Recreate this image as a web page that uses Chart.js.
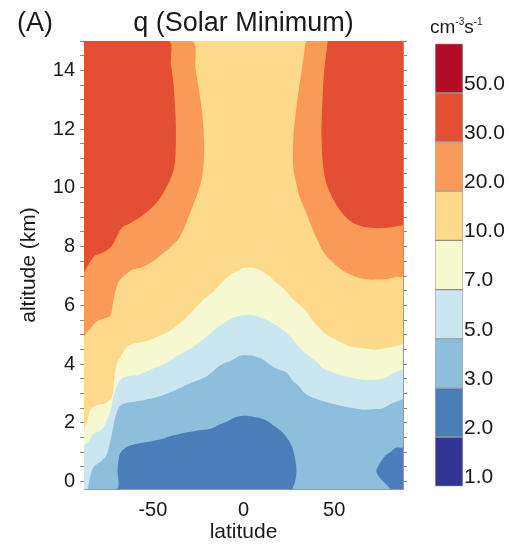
<!DOCTYPE html>
<html>
<head>
<meta charset="utf-8">
<script src="https://cdn.jsdelivr.net/npm/chart.js@4.4.1/dist/chart.umd.min.js"></script>
<style>
  html, body { margin: 0; padding: 0; background: #fff; }
  #wrap { position: relative; width: 509px; height: 545px; overflow: hidden;
          font-family: "Liberation Sans", Arial, sans-serif; color: #1a1a1a; }
  canvas { position: absolute; }
  .label { position: absolute; white-space: nowrap; }
  .sup { font-size: 10px; position: relative; top: -8px; }
</style>
</head>
<body>
<div id="wrap">
  <canvas id="field" width="509" height="545" style="left:0;top:0"></canvas>
  <canvas id="colorbar" width="89" height="470" style="left:420px;top:30px"></canvas>
  <div class="label" style="left:17px;top:7px;font-size:27px">(A)</div>
  <div class="label" style="left:0;width:487px;top:7px;font-size:27px;text-align:center">q (Solar Minimum)</div>
  <div class="label" style="left:430px;top:16px;font-size:19px">cm<span class="sup">-3</span>s<span class="sup">-1</span></div>
</div>
<script>
const textColor = "#1a1a1a";
const frameColor = "#9a9a9a";

const latMin = -88;
const latMax = 88;
const altMin = -0.25;
const altMax = 15;

const latTicks = [-50, 0, 50];
const altTicks = [0, 2, 4, 6, 8, 10, 12, 14];

// contour levels (cm-3 s-1) and colours of the bands above each level
const levelLabels = ["1.0", "2.0", "3.0", "5.0", "7.0", "10.0", "20.0", "30.0", "50.0"];
const bandColors = ["#313695", "#4b7db8", "#8dbfdc", "#cae6f0", "#f6f9d0",
                    "#fdd98b", "#f99b57", "#e34f33", "#b30c27"];

// contour lines as [latitude, altitude km]; q is above the level on the upper side
const floorLine = [[-88, -0.25], [88, -0.25]];

const q3 = [
  [-88, -0.25], [-69.8, -0.25], [-69.5, 0.4], [-68.5, 0.9], [-67, 1.05], [-64, 1.2],
  [-58, 1.3], [-51.4, 1.37], [-45, 1.45], [-41, 1.54], [-33, 1.66], [-27.5, 1.72],
  [-18, 1.8], [-13, 1.95], [-9, 2.05], [-4, 2.2], [1, 2.24], [6, 2.2], [10.9, 2.13],
  [14.7, 2.0], [18, 1.85], [21.8, 1.66], [25, 1.4], [27.3, 1.09], [29, 0.6],
  [29.2, 0.3], [28.5, 0.0], [27.5, -0.25], [80.5, -0.25], [78, -0.05], [75, 0.15],
  [73.2, 0.35], [74.5, 0.55], [76, 0.7], [78.5, 0.9], [81.4, 1.02], [84, 1.15], [88, 1.2]
];

const q5 = [
  [-88, -0.25], [-86, -0.25], [-85, 0.07], [-83.5, 0.4], [-82.4, 0.52], [-79.7, 0.64],
  [-76, 0.86], [-74.5, 1.1], [-73.3, 1.43], [-70.6, 2.22], [-68.4, 2.56], [-66, 2.65],
  [-62.3, 2.7], [-54, 2.79], [-47.7, 2.88], [-41.4, 3.02], [-33, 3.25], [-27.5, 3.4],
  [-20, 3.6], [-13, 3.95], [-6, 4.15], [-1.9, 4.29], [3, 4.3], [7, 4.25], [10.9, 4.15],
  [14.5, 3.98], [18, 3.85], [23.5, 3.72], [27, 3.45], [30.5, 3.25], [34, 3.0],
  [37.5, 2.88], [41, 2.8], [44.7, 2.73], [51.4, 2.62], [55.7, 2.56], [61, 2.5],
  [66.5, 2.45], [72, 2.47], [77, 2.5], [81.4, 2.65], [84.4, 2.73], [88, 2.85]
];

const q7 = [
  [-88, 1.25], [-86.2, 1.31], [-82.4, 1.66], [-79.7, 1.72], [-77, 1.88], [-73.3, 2.45],
  [-70.6, 3.13], [-67, 3.53], [-57.8, 3.64], [-50, 3.85], [-44, 4.0], [-36, 4.3],
  [-27.5, 4.6], [-20, 4.95], [-14.7, 5.23], [-8, 5.5], [-3.8, 5.62], [3.5, 5.68],
  [9, 5.6], [14.5, 5.45], [22, 5.15], [27, 4.85], [32, 4.49], [36.5, 4.26], [41, 4.04],
  [44, 3.85], [50.2, 3.7], [57, 3.58], [66, 3.47], [74, 3.48], [79, 3.55], [82.4, 3.7],
  [88, 3.87]
];

const q10 = [
  [-88, 1.8], [-86.5, 2.0], [-85.2, 2.34], [-84, 2.5], [-82.4, 2.56], [-80, 2.62],
  [-76, 2.68], [-72.5, 2.9], [-71.2, 3.6], [-70, 4.0], [-67.9, 4.25], [-64, 4.6],
  [-59, 4.72], [-54, 4.77], [-47, 4.95], [-41.4, 5.1], [-36, 5.35], [-31, 5.62],
  [-27.5, 5.85], [-22, 6.2], [-16, 6.5], [-11, 6.85], [-5.6, 7.1], [0, 7.27], [5, 7.28],
  [9, 7.2], [14, 7.0], [18.2, 6.76], [22.5, 6.55], [27.5, 6.2], [33.8, 5.85],
  [38.6, 5.45], [41, 5.28], [46, 5.0], [51, 4.83], [59, 4.6], [66, 4.55], [72, 4.49],
  [79, 4.55], [84, 4.62], [88, 4.72]
];

const q20West = [
  [-88, 4.95], [-84, 5.25], [-81, 5.45], [-77, 5.55], [-73.5, 5.65], [-72, 6.1],
  [-71, 6.4], [-69, 6.8], [-66, 7.0], [-62, 7.2], [-56, 7.3], [-50, 7.5], [-45, 7.75],
  [-40, 8.0], [-36, 8.25], [-33, 8.6], [-28.6, 9.28], [-24, 10.07], [-22.2, 10.64],
  [-21.7, 11.5], [-22.3, 12.2], [-23.5, 12.9], [-26.4, 14.04], [-28.6, 15]
];

const q20East = [
  [34.4, 15], [32.1, 14.0], [29.5, 12.9], [27.6, 11.8], [27.5, 10.7], [29.5, 10.05],
  [31.5, 9.6], [34, 9.25], [38.1, 8.6], [41, 8.2], [43.8, 7.85], [47, 7.6], [50, 7.43],
  [54, 7.22], [59, 7.05], [64, 6.93], [69, 6.88], [74, 6.88], [79, 6.9], [84, 6.97],
  [88, 7.0]
];

const q30West = [
  [-88, 7.1], [-85, 7.45], [-82, 7.7], [-79.8, 7.74], [-76, 7.85], [-72.6, 8.03],
  [-69.7, 8.37], [-67, 8.65], [-63.3, 8.77], [-56, 9.05], [-47.8, 9.5], [-42.3, 10.05],
  [-38.6, 10.6], [-37.4, 11.3], [-37.4, 12.3], [-38.6, 13.5], [-40, 14.2], [-41.4, 15]
];

const q30East = [
  [46.5, 15], [44.5, 14.0], [43.5, 12.9], [43, 11.8], [44, 10.7], [46, 10.1],
  [50.5, 9.5], [55, 9.1], [60, 8.82], [66, 8.68], [74, 8.63], [81, 8.65], [85, 8.7],
  [88, 8.75]
];

// painted from the bottom band up, each one covers everything above its line
const layers = [
  { line: floorLine, band: 1 },
  { line: q3, band: 2 },
  { line: q5, band: 3 },
  { line: q7, band: 4 },
  { line: q10, band: 5 },
  { line: q20West, band: 6 },
  { line: q20East, band: 6 },
  { line: q30West, band: 7 },
  { line: q30East, band: 7 },
];

function toPolygon(line) {
  const pts = line.map(([x, y]) => ({ x, y }));
  const first = pts[0];
  const last = pts[pts.length - 1];
  if (last.y !== altMax) pts.push({ x: last.x, y: altMax });
  if (first.y !== altMax) pts.push({ x: first.x, y: altMax });
  return pts;
}

const altMinorTicks = [];
for (let v = 0; v <= altMax; v += 0.5) altMinorTicks.push(v);

Chart.defaults.font.family = '"Liberation Sans", Arial, sans-serif';
Chart.defaults.color = textColor;

new Chart(document.getElementById("field"), {
  type: "line",
  data: {
    datasets: layers.map((layer, i) => ({
      data: toPolygon(layer.line),
      backgroundColor: bandColors[layer.band],
      borderColor: bandColors[layer.band],
      borderWidth: 0,
      pointRadius: 0,
      tension: 0.3,
      fill: "shape",
      order: layers.length - i,
    })),
  },
  options: {
    responsive: false,
    animation: false,
    events: [],
    layout: { padding: { left: 0, top: 41, right: 102, bottom: 0 } },
    plugins: { legend: { display: false }, tooltip: { enabled: false } },
    scales: {
      x: {
        type: "linear",
        position: "bottom",
        min: latMin,
        max: latMax,
        afterBuildTicks: (s) => { s.ticks = latTicks.map((v) => ({ value: v })); },
        ticks: { font: { size: 20 }, color: textColor, padding: 9, maxRotation: 0 },
        grid: { display: false, drawTicks: false },
        border: { display: true, color: frameColor, width: 1 },
        title: { display: true, text: "latitude", font: { size: 21 }, color: textColor,
                 padding: { top: 0, bottom: 0 } },
        afterFit: (s) => { s.height = 56; },
      },
      x2: {
        type: "linear",
        position: "top",
        min: latMin,
        max: latMax,
        ticks: { display: false },
        grid: { display: false, drawTicks: false },
        border: { display: true, color: frameColor, width: 1 },
        afterFit: (s) => { s.height = 0; },
      },
      y: {
        type: "linear",
        position: "left",
        min: altMin,
        max: altMax,
        afterBuildTicks: (s) => { s.ticks = altMinorTicks.map((v) => ({ value: v })); },
        ticks: {
          font: { size: 20 }, color: textColor, padding: 5, autoSkip: false,
          callback: (v) => (altTicks.includes(v) ? String(v) : ""),
        },
        grid: { drawOnChartArea: false, drawTicks: true, tickLength: 4, color: "#8a8a8a" },
        border: { display: true, color: frameColor, width: 1 },
        title: { display: true, text: "altitude (km)", font: { size: 21 }, color: textColor,
                 padding: { top: 17, bottom: 0 } },
        afterFit: (s) => { s.width = 84; },
      },
      y2: {
        type: "linear",
        position: "right",
        min: altMin,
        max: altMax,
        afterBuildTicks: (s) => { s.ticks = altMinorTicks.map((v) => ({ value: v })); },
        ticks: { display: false },
        grid: { drawOnChartArea: false, drawTicks: true, tickLength: 4, color: "#8a8a8a" },
        border: { display: true, color: frameColor, width: 1 },
        afterFit: (s) => { s.width = 4; },
      },
    },
  },
});

new Chart(document.getElementById("colorbar"), {
  type: "bar",
  data: {
    labels: [""],
    datasets: bandColors.map((c) => ({
      data: [1],
      backgroundColor: c,
      borderColor: "rgba(60,60,60,0.45)",
      borderWidth: 1,
      borderSkipped: false,
      barPercentage: 1,
      categoryPercentage: 1,
    })),
  },
  options: {
    responsive: false,
    animation: false,
    events: [],
    layout: { padding: { left: 15, top: 12, bottom: 10, right: 0 } },
    plugins: { legend: { display: false }, tooltip: { enabled: false } },
    scales: {
      x: { display: false, stacked: true },
      y: {
        stacked: true,
        position: "right",
        min: 0,
        max: levelLabels.length,
        afterBuildTicks: (s) => { s.ticks = levelLabels.map((_, i) => ({ value: i })); },
        ticks: { callback: (v) => levelLabels[v], font: { size: 21 }, color: textColor,
                 padding: 1, labelOffset: -9, autoSkip: false },
        grid: { display: false, drawTicks: false },
        border: { display: false },
        afterFit: (s) => { s.width = 46; },
      },
    },
  },
});
</script>
</body>
</html>
